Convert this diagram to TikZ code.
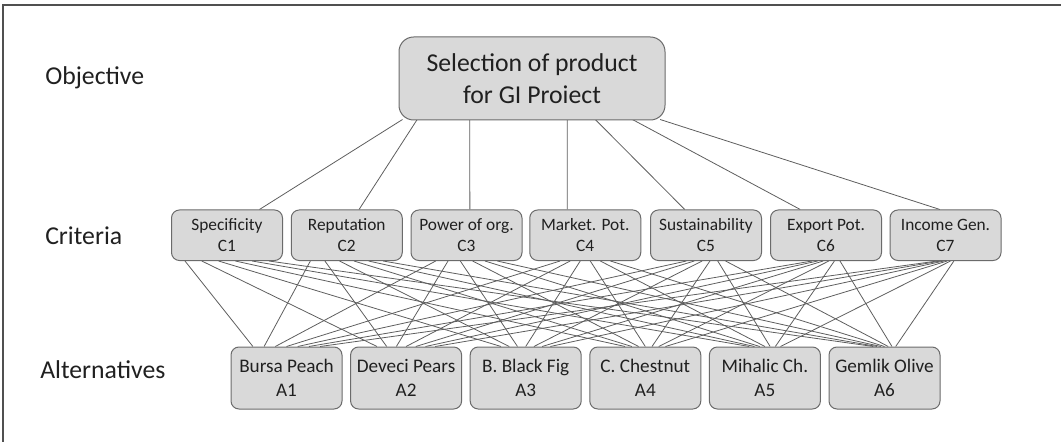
\documentclass[tikz,border=0pt]{standalone}
\usepackage{fontspec}
\setmainfont{Carlito}
\usetikzlibrary{calc}
\pgfdeclarelayer{bg}
\pgfsetlayers{bg,main}
\definecolor{boxfill}{HTML}{D9D9D9}
\definecolor{boxline}{HTML}{6B6B6B}
\definecolor{linkcol}{HTML}{5E5E5E}
\definecolor{txt}{HTML}{202020}
\definecolor{framecol}{HTML}{505050}

\begin{document}
\begin{tikzpicture}[x=0.75pt,y=-0.75pt,
  box/.style={draw=boxline,fill=boxfill,line width=0.75pt,align=center,
    text=txt,inner sep=0pt},
  goalbox/.style={box,rounded corners=11pt,minimum width=199.5pt,
    minimum height=62.25pt,font=\fontsize{19.3}{24}\selectfont},
  critbox/.style={box,rounded corners=6pt,minimum width=83.25pt,
    minimum height=37.9pt,font=\fontsize{13}{15.75}\selectfont},
  altbox/.style={box,rounded corners=6pt,minimum width=83.25pt,
    minimum height=46.5pt,font=\fontsize{14.4}{18}\selectfont},
  level/.style={anchor=base west,inner sep=0pt,text=txt,
    font=\fontsize{19.3}{23}\selectfont},
  link/.style={draw=linkcol,line width=0.6pt}]

\useasboundingbox (0,0) rectangle (1061,442);

% frame (top and left edges)
\draw[framecol,line width=0.8pt] (1061,5) -- (3,5) -- (3,442);

% level labels
\node[level] (lobj) at (45,85) {Objective};
\node[level] (lcrit) at (45,245) {Criteria};
\node[level] (lalt) at (40,378) {Alternatives};

% goal
\node[goalbox] (obj) at (532,78.5) {Selection of product\\for GI Proiect};

% criteria
\node[critbox] (c1) at (227.00,235.25) {Specificity\\C1};
\node[critbox] (c2) at (346.75,235.25) {Reputation\\C2};
\node[critbox] (c3) at (466.50,235.25) {Power of org.\\C3};
\node[critbox] (c4) at (585.25,235.25) {Market. Pot.\\C4};
\node[critbox] (c5) at (706.00,235.25) {Sustainability\\C5};
\node[critbox] (c6) at (826.00,235.25) {Export Pot.\\C6};
\node[critbox] (c7) at (945.50,235.25) {Income Gen.\\C7};

% alternatives
\node[altbox] (a1) at (286.5,378) {Bursa Peach\\A1};
\node[altbox] (a2) at (406.1,378) {Deveci Pears\\A2};
\node[altbox] (a3) at (525.7,378) {B. Black Fig\\A3};
\node[altbox] (a4) at (645.3,378) {C. Chestnut\\A4};
\node[altbox] (a5) at (764.9,378) {Mihalic Ch.\\A5};
\node[altbox] (a6) at (884.5,378) {Gemlik Olive\\A6};

\begin{pgfonlayer}{bg}
  % goal to criteria
  \foreach \i/\p/\q in {1/0.015/0.79, 2/0.07/0.61, 3/0.267/0.53,
                         4/0.632/0.34, 5/0.737/0.31, 6/0.876/0.27,
                         7/0.98/0.45}{
    \draw[link] ($(obj.south west)!\p!(obj.south east)+(0,-1)$)
      -- ($(c\i.north west)!\q!(c\i.north east)$);
  }
  % every criterion to every alternative
  \foreach \i in {1,...,7}{
    \foreach \j in {1,...,6}{
      \pgfmathsetmacro\f{0.5+(0.75-0.1*(\i-1))*(\j-3.5)/5}
      \pgfmathsetmacro\g{0.5+(0.6-0.08*(\j-1))*(\i-4)/6}
      \draw[link] ($(c\i.south west)!\f!(c\i.south east)$)
        -- ($(a\j.north west)!\g!(a\j.north east)$);
    }
  }
\end{pgfonlayer}
\end{tikzpicture}
\end{document}
